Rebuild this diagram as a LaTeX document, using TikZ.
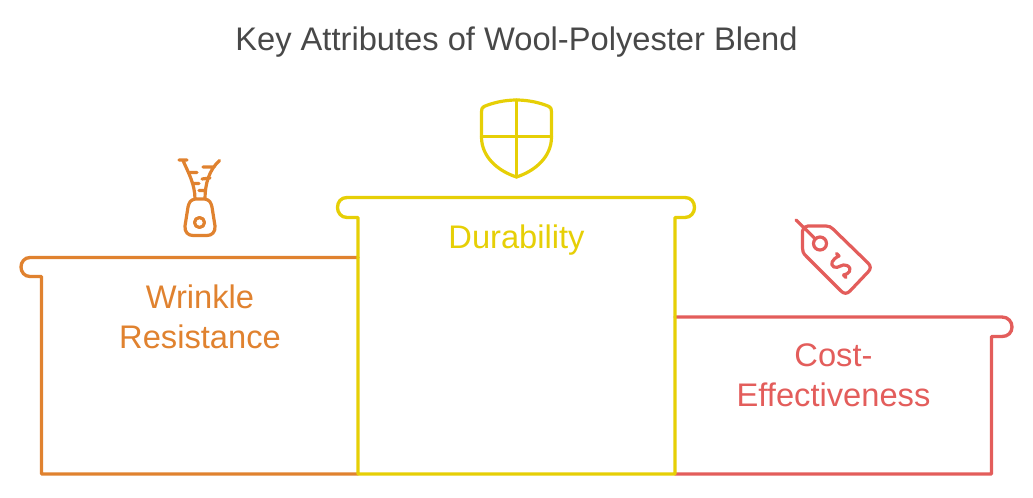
\documentclass[tikz,border=0pt]{standalone}
\usepackage{xcolor}
\usepackage{fontspec}
\setmainfont{Liberation Sans}
\definecolor{wrinkleorange}{HTML}{E0822F}
\definecolor{durableyellow}{HTML}{E6CF06}
\definecolor{costred}{HTML}{E35D5B}
\definecolor{titlegray}{HTML}{484848}

\begin{document}
\begin{tikzpicture}[x=0.75pt,y=-0.75pt,
    outline/.style={line width=2.5pt,line join=round,line cap=round},
    glyph/.style={line width=2.4pt,line join=round,line cap=round},
    label/.style={font=\fontsize{24.5}{30}\selectfont,align=center,inner sep=0pt}]
  \useasboundingbox (0,0) rectangle (1033,497);
  \node[font=\fontsize{24.5}{30}\selectfont,text=titlegray,inner sep=0pt] (title) at (516.5,42) {Key Attributes of Wool-Polyester Blend};
  \draw[outline,wrinkleorange] (358,257.5) -- (30,257.5) .. controls (24.5,257.5) and (21,262) .. (21,267) .. controls (21,272) and (24.5,276.5) .. (30,276.5) -- (41.5,276.5) -- (41.5,474) -- (358,474);
  \draw[outline,costred] (675,317) -- (1002,317) .. controls (1008,317) and (1012,321.5) .. (1012,327) .. controls (1012,332.5) and (1008,336.5) .. (1002,336.5) -- (991.5,336.5) -- (991.5,474) -- (675,474);
  \draw[outline,durableyellow] (358,474) -- (358,217.5) -- (347,217.5) .. controls (341,217.5) and (337.5,212.5) .. (337.5,207.5) .. controls (337.5,202) and (341,197.5) .. (347,197.5) -- (685,197.5) .. controls (691,197.5) and (694.5,202) .. (694.5,207.5) .. controls (694.5,212.5) and (691,217.5) .. (685,217.5) -- (675,217.5) -- (675,474) -- cycle;
  \node[label,text=wrinkleorange] (wrinkle) at (200,316.5) {Wrinkle\\Resistance};
  \node[label,text=durableyellow] (durability) at (516.5,240) {Durability};
  \node[label,text=costred] (cost) at (833.5,375.5) {Cost-\\Effectiveness};
  % zipper
  \draw[glyph,wrinkleorange] (179,160) -- (187,160) (183,160.5) .. controls (188,172) and (195,184) .. (195,199);
  \draw[glyph,wrinkleorange] (219.5,160.5) .. controls (209,170) and (205,184) .. (205,199) (203,167) -- (214.5,167);
  \draw[glyph,wrinkleorange] (190,172.5) -- (197,172.5) (202,179) -- (210,178) (193,183.5) -- (199,183.5) (199,190.5) -- (205,190.5);
  \draw[glyph,wrinkleorange] (195,199) .. controls (190,200) and (189,203) .. (188,207) -- (185,226) .. controls (184.5,232) and (188,235.5) .. (193,235.5) -- (207,235.5) .. controls (212,235.5) and (215.5,232) .. (215,226) -- (212,207) .. controls (211,203) and (210,200) .. (205,199) -- cycle;
  \draw[glyph,wrinkleorange] (199.5,222.5) circle (5);
  % shield
  \draw[glyph,durableyellow] (516.5,100) .. controls (504,100) and (492,103) .. (484,106.5) .. controls (482,107.5) and (481.5,109) .. (481.5,112) -- (481.5,137) .. controls (481.5,157) and (498,171) .. (516.5,177) .. controls (535,171) and (551.5,157) .. (551.5,137) -- (551.5,112) .. controls (551.5,109) and (551,107.5) .. (549,106.5) .. controls (541,103) and (529,100) .. (516.5,100) -- cycle;
  \draw[glyph,durableyellow] (516.5,100) -- (516.5,177) (481.5,136.5) -- (551.5,136.5);
  % price tag
  \draw[glyph,costred] (796,220) -- (815.5,239);
  \draw[glyph,costred] (820,243.5) circle (6.5);
  \draw[glyph,costred] (808,226) -- (826,226) .. controls (829,226) and (831,227) .. (833,229) -- (868,263) .. controls (871,266) and (871,269) .. (868,272) -- (850,291) .. controls (847,294) and (844,294) .. (841,291) -- (806,256) .. controls (803,253) and (802.5,251) .. (802.5,248) -- (802.5,231) .. controls (802.5,228) and (805,226) .. (808,226) -- cycle;
  \draw[glyph,costred] (836.5,253.5) -- (839,256) .. controls (832,259) and (829.5,265) .. (834,267) .. controls (838.5,269) and (842,263) .. (847,265.5) .. controls (853,268.5) and (849,274.5) .. (843.5,275) (843.5,275) -- (846,277.5);
\end{tikzpicture}
\end{document}
